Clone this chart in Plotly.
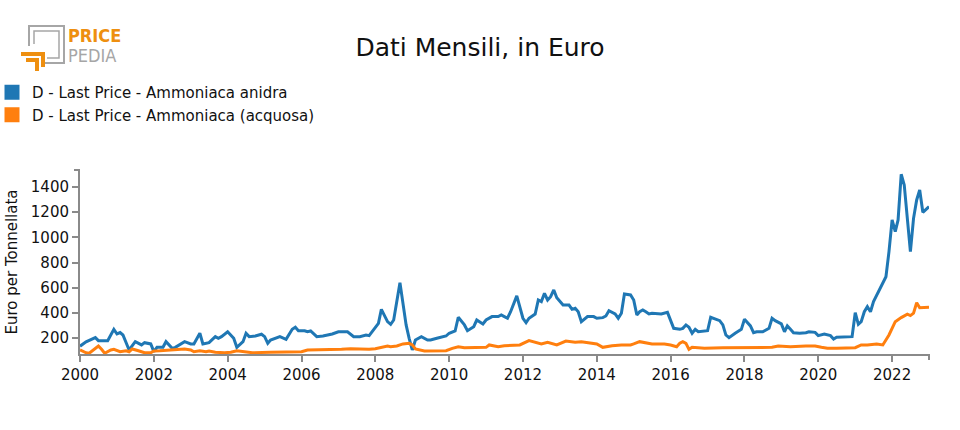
import plotly.graph_objects as go

# ---------------- data ----------------
anidra_dates = [
    "2000-01", "2000-03", "2000-06", "2000-07", "2000-10", "2000-12",
    "2001-01", "2001-02", "2001-03", "2001-05", "2001-07", "2001-09", "2001-10", "2001-12",
    "2002-01", "2002-02", "2002-04", "2002-05", "2002-07", "2002-08", "2002-11",
    "2003-01", "2003-02", "2003-04", "2003-05", "2003-07", "2003-09", "2003-10", "2003-11",
    "2004-01", "2004-03", "2004-04", "2004-06", "2004-07", "2004-08", "2004-10", "2004-12",
    "2005-01", "2005-02", "2005-03", "2005-06", "2005-08", "2005-10", "2005-11", "2005-12",
    "2006-02", "2006-03", "2006-04", "2006-06", "2006-08", "2006-11",
    "2007-01", "2007-04", "2007-06", "2007-08", "2007-10", "2007-11", "2007-12",
    "2008-02", "2008-03", "2008-04", "2008-05", "2008-06", "2008-07", "2008-09", "2008-10",
    "2008-11", "2008-12",
    "2009-01", "2009-02", "2009-04", "2009-06", "2009-07", "2009-09", "2009-12",
    "2010-01", "2010-02", "2010-03", "2010-04", "2010-06", "2010-07", "2010-09", "2010-10", "2010-12",
    "2011-01", "2011-03", "2011-05", "2011-06", "2011-07", "2011-08", "2011-09", "2011-10", "2011-11",
    "2012-01", "2012-02", "2012-03", "2012-05", "2012-06", "2012-07", "2012-08", "2012-09",
    "2012-10", "2012-11", "2012-12",
    "2013-01", "2013-02", "2013-04", "2013-05", "2013-06", "2013-07", "2013-08", "2013-10", "2013-12",
    "2014-01", "2014-03", "2014-04", "2014-05", "2014-07", "2014-08", "2014-09", "2014-10", "2014-12",
    "2015-01", "2015-02", "2015-03", "2015-04", "2015-05", "2015-06", "2015-07", "2015-10", "2015-12",
    "2016-02", "2016-04", "2016-05", "2016-06", "2016-07", "2016-08", "2016-09", "2016-10",
    "2017-01", "2017-02", "2017-04", "2017-05", "2017-06", "2017-07", "2017-08", "2017-09",
    "2017-10", "2017-12",
    "2018-01", "2018-03", "2018-04", "2018-05", "2018-07", "2018-09", "2018-10", "2018-11",
    "2019-01", "2019-02", "2019-03", "2019-04", "2019-05", "2019-07", "2019-09", "2019-10", "2019-12",
    "2020-01", "2020-03", "2020-05", "2020-06", "2020-07", "2020-10", "2020-12",
    "2021-01", "2021-02", "2021-03", "2021-04", "2021-05", "2021-06", "2021-07", "2021-08",
    "2021-09", "2021-11", "2021-12",
    "2022-01", "2022-02", "2022-03", "2022-04", "2022-05", "2022-07", "2022-08", "2022-09",
    "2022-10", "2022-11", "2022-12", "2023-01",
]
anidra_values = [
    135, 170, 203, 179, 179, 269,
    232, 243, 224, 105, 171, 145, 163, 153,
    92, 126, 126, 171, 118, 126, 171,
    153, 153, 238, 153, 163, 211, 198, 211,
    250, 198, 126, 171, 238, 211, 216, 230,
    211, 158, 184, 211, 190, 269, 285, 258,
    258, 250, 256, 211, 216, 232,
    250, 250, 211, 211, 224, 219, 250,
    317, 428, 383, 330, 309, 343, 640, 476,
    304, 198,
    105, 184, 211, 184, 184, 198, 216,
    238, 250, 256, 365, 304, 258, 290, 343, 312,
    343, 370, 370, 383, 370, 357, 409, 480, 535,
    357, 322, 357, 391, 502, 489, 555, 502,
    528, 582, 520,
    489, 462, 462, 428, 436, 409, 330, 370, 370,
    357, 362, 375, 417, 391, 357, 397, 550, 542,
    502, 383, 409, 423, 409, 391, 397, 391, 404,
    277, 269, 277, 304, 285, 238, 269, 250,
    258, 365, 343, 338, 304, 224, 203, 224,
    238, 269,
    349, 296, 242, 250, 250, 277, 357, 338,
    312, 250, 296, 269, 242, 238, 242, 250, 245,
    219, 232, 219, 192, 206, 206, 211,
    401, 309, 330, 409, 449, 409, 489, 542,
    582, 687, 886,
    1138, 1045, 1138, 1501, 1416, 886, 1151, 1297,
    1376, 1199, 1220, 1244,
]

acquosa_dates = [
    "2000-01", "2000-03", "2000-04", "2000-07", "2000-08", "2000-09", "2000-11", "2000-12",
    "2001-02", "2001-04", "2001-05", "2001-06", "2001-08", "2001-10", "2001-12",
    "2002-01", "2002-03", "2002-06", "2002-08", "2002-11",
    "2003-01", "2003-02", "2003-04", "2003-06", "2003-07", "2003-09", "2003-12",
    "2004-02", "2004-04", "2004-07", "2004-09",
    "2005-03", "2005-08",
    "2006-01", "2006-03", "2006-07", "2006-10",
    "2007-02", "2007-05", "2007-08", "2007-11",
    "2008-01", "2008-03", "2008-05", "2008-06", "2008-08", "2008-10", "2008-12",
    "2009-01", "2009-02", "2009-05", "2009-09", "2009-12",
    "2010-02", "2010-04", "2010-06", "2010-09",
    "2011-01", "2011-02", "2011-05", "2011-07", "2011-11", "2011-12",
    "2012-03", "2012-07", "2012-09", "2012-12",
    "2013-03", "2013-06", "2013-08", "2013-11",
    "2014-01", "2014-03", "2014-06", "2014-09", "2014-12",
    "2015-01", "2015-03", "2015-07", "2015-11",
    "2016-01", "2016-03", "2016-04", "2016-05", "2016-06", "2016-07", "2016-08", "2016-12",
    "2017-06", "2017-11",
    "2018-05", "2018-10", "2018-12",
    "2019-04", "2019-09", "2019-12",
    "2020-02", "2020-04", "2020-07",
    "2021-01", "2021-03", "2021-05", "2021-08", "2021-10", "2021-12",
    "2022-02", "2022-04", "2022-06", "2022-07", "2022-08", "2022-09", "2022-10", "2023-01",
]
acquosa_values = [
    105, 83, 79, 137, 110, 79, 105, 110,
    91, 99, 91, 113, 99, 83, 83,
    97, 99, 105, 105, 113,
    105, 91, 99, 91, 97, 87, 83,
    87, 99, 87, 83,
    87, 87,
    91, 105, 105, 110,
    110, 115, 110, 110,
    115, 123, 137, 131, 137, 153, 158,
    145, 113, 97, 97, 99,
    118, 131, 123, 126,
    126, 145, 131, 139, 145, 145,
    179, 153, 166, 145,
    176, 166, 171, 163,
    153, 126, 139, 145, 145,
    153, 171, 153, 153,
    145, 131, 158, 171, 158, 110, 126, 118,
    123, 123,
    126, 126, 137,
    131, 137, 137,
    126, 118, 118,
    123, 145, 145, 153, 145, 224,
    330, 362, 389, 378, 397, 480, 441, 444,
]

series_names = ["D - Last Price - Ammoniaca anidra", "D - Last Price - Ammoniaca (acquosa)"]
series_colors = ["#1f77b4", "#ff7f0e"]

y_ticks = [200, 400, 600, 800, 1000, 1200, 1400]
x_tick_years = ["2000", "2002", "2004", "2006", "2008", "2010", "2012",
                "2014", "2016", "2018", "2020", "2022"]

# ---------------- layout geometry ----------------
W, H = 960, 430
L, R, T, B = 80, 31, 170, 76
PW, PH = W - L - R, H - T - B


def px(x):
    return (x - L) / PW


def py(y):
    return (H - B - y) / PH


FONT = "DejaVu Sans"
LOGO_FONT = "Liberation Sans Narrow, DejaVu Sans Condensed, DejaVu Sans"
AXIS_GREY = "#8a8a8a"
TXT = "#111111"

fig = go.Figure()

for dates, vals, name, color in [
    (anidra_dates, anidra_values, series_names[0], series_colors[0]),
    (acquosa_dates, acquosa_values, series_names[1], series_colors[1]),
]:
    fig.add_trace(go.Scatter(
        x=dates, y=vals, mode="lines", name=name, legendgroup=name,
        line=dict(color=color, width=3), showlegend=False,
        hovertemplate="%{x|%b %Y}: %{y}<extra>" + name + "</extra>",
    ))

# legend entries drawn as coloured squares
for name, color in zip(series_names, series_colors):
    fig.add_trace(go.Scatter(
        x=[None], y=[None], mode="markers", name=name, legendgroup=name,
        marker=dict(symbol="square", size=15, color=color),
        showlegend=True,
    ))

shapes = []
# outer ticks of the axes (d3 style domain ends)
shapes.append(dict(type="line", xref="paper", yref="paper", xsizemode="pixel", xanchor=0,
                   x0=-6, x1=0, y0=1, y1=1, line=dict(color=AXIS_GREY, width=2)))
shapes.append(dict(type="line", xref="paper", yref="paper", ysizemode="pixel", yanchor=0,
                   x0=1, x1=1, y0=0, y1=-6, line=dict(color=AXIS_GREY, width=2)))

# logo (PricePedia)
grey = "#a6a6a6"
orange = "#ee8f10"


def path(points):
    s = "M {},{}".format(px(points[0][0]), py(points[0][1]))
    for (a, b) in points[1:]:
        s += " L {},{}".format(px(a), py(b))
    return s


shapes.append(dict(type="path", xref="paper", yref="paper",
                   path=path([(29, 46), (29, 26), (64, 26), (64, 63), (45, 63)]),
                   line=dict(color=grey, width=2)))
shapes.append(dict(type="path", xref="paper", yref="paper",
                   path=path([(34, 44), (34, 31), (59, 31), (59, 58), (47, 58)]),
                   line=dict(color=grey, width=1.5)))
shapes.append(dict(type="path", xref="paper", yref="paper",
                   path=path([(21, 54), (43, 54), (43, 67)]),
                   line=dict(color=orange, width=4)))
shapes.append(dict(type="path", xref="paper", yref="paper",
                   path=path([(26, 60), (37, 60), (37, 71)]),
                   line=dict(color=orange, width=4)))

annotations = [
    dict(text="<b>PRICE</b>", xref="paper", yref="paper", x=px(66), y=py(35),
         xanchor="left", yanchor="middle", showarrow=False,
         font=dict(family=LOGO_FONT, size=18, color=orange)),
    dict(text="PEDIA", xref="paper", yref="paper", x=px(66), y=py(55.5),
         xanchor="left", yanchor="middle", showarrow=False,
         font=dict(family=LOGO_FONT, size=18, color=grey)),
]

fig.update_layout(
    width=W, height=H,
    margin=dict(l=L, r=R, t=T, b=B, pad=0, autoexpand=False),
    paper_bgcolor="white", plot_bgcolor="white",
    font=dict(family=FONT, size=15, color=TXT),
    title=dict(text="Dati Mensili, in Euro", xref="container", yref="container",
               x=0.5, y=1 - 47 / H, xanchor="center", yanchor="middle",
               font=dict(family=FONT, size=25, color=TXT)),
    showlegend=True,
    legend=dict(x=px(-8), y=py(76), xanchor="left", yanchor="top",
                font=dict(family=FONT, size=15, color=TXT),
                bgcolor="rgba(0,0,0,0)", borderwidth=0, tracegroupgap=0,
                itemsizing="trace"),
    shapes=shapes,
    annotations=annotations,
    hovermode="closest",
)

fig.update_xaxes(
    type="date", range=["2000-01-01", "2023-01-01"], automargin=False,
    tickmode="array", tickvals=[y + "-01-01" for y in x_tick_years], ticktext=x_tick_years,
    showgrid=False, zeroline=False,
    showline=True, linecolor=AXIS_GREY, linewidth=2,
    ticks="outside", ticklen=6, tickwidth=2, tickcolor=AXIS_GREY,
    tickfont=dict(family=FONT, size=15, color=TXT),
)
fig.update_yaxes(
    range=[73, 1535], automargin=False,
    tickmode="array", tickvals=y_ticks, ticktext=[str(v) for v in y_ticks],
    showgrid=False, zeroline=False,
    showline=True, linecolor=AXIS_GREY, linewidth=2,
    ticks="outside", ticklen=6, tickwidth=2, tickcolor=AXIS_GREY,
    tickfont=dict(family=FONT, size=15, color=TXT),
    title=dict(text="Euro per Tonnellata", standoff=10,
               font=dict(family=FONT, size=15, color=TXT)),
)

fig.write_html("out.html")
